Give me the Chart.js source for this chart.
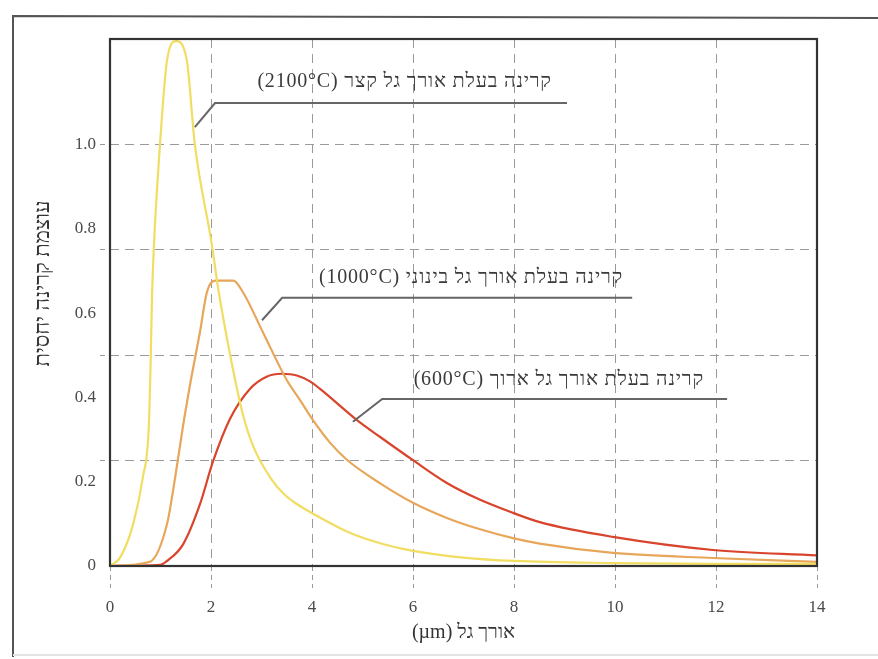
<!DOCTYPE html>
<html>
<head>
<meta charset="utf-8">
<script src="https://cdn.jsdelivr.net/npm/chart.js@4"></script>
<style>
  html, body { margin: 0; padding: 0; background: #ffffff; }
  #wrap { width: 878px; height: 659px; position: relative; }
</style>
</head>
<body>
<div id="wrap"><canvas id="c" width="878" height="659"></canvas></div>
<script>
// ---------- data ----------
const xTicks = [0, 2, 4, 6, 8, 10, 12, 14];
const yTickLabels = [0, 0.2, 0.4, 0.6, 0.8, 1.0];
const yGridValues = [0.25, 0.5, 0.75, 1.0];

const seriesNames = ['2100°C', '1000°C', '600°C'];

const x2100 = [0, 0.2, 0.46, 0.65, 0.77, 0.81, 0.83, 0.87, 0.99, 1.13, 1.31, 1.52, 1.68, 2.02, 2.14, 2.38, 2.63, 2.85, 3.2, 3.45, 3.7, 4.02, 4.69, 5.35, 6.0, 7, 8, 10, 12, 14];
const y2100 = [0, 0.02, 0.1, 0.21, 0.335, 0.51, 0.63, 0.76, 1.0, 1.2, 1.245, 1.2, 1.0, 0.76, 0.66, 0.5, 0.36, 0.28, 0.205, 0.17, 0.147, 0.124, 0.082, 0.054, 0.036, 0.02, 0.012, 0.007, 0.005, 0.005];

const x1000 = [0, 0.79, 1.13, 1.29, 1.45, 1.62, 1.78, 1.92, 2.08, 2.44, 2.63, 3.03, 3.5, 3.76, 4.02, 4.36, 4.69, 5.35, 6.0, 6.67, 7.33, 7.98, 8.51, 9.96, 11.94, 14];
const y1000 = [0, 0.01, 0.1, 0.21, 0.335, 0.453, 0.554, 0.65, 0.677, 0.677, 0.65, 0.554, 0.441, 0.394, 0.346, 0.292, 0.252, 0.196, 0.15, 0.114, 0.087, 0.066, 0.053, 0.031, 0.019, 0.01];

const x600 = [0, 1.0, 1.13, 1.45, 1.78, 2.04, 2.38, 2.77, 3.1, 3.4, 3.7, 3.96, 4.16, 4.36, 4.89, 5.35, 6.0, 6.67, 7.33, 7.98, 8.51, 9.96, 11.94, 14];
const y600 = [0, 0.003, 0.012, 0.052, 0.146, 0.248, 0.35, 0.42, 0.449, 0.456, 0.452, 0.438, 0.42, 0.4, 0.346, 0.306, 0.251, 0.197, 0.157, 0.126, 0.104, 0.069, 0.038, 0.025];

// annotation texts and leader lines (data coordinates)
const labelTexts = ['קרינה בעלת אורך גל קצר (2100°C)', 'קרינה בעלת אורך גל בינוני (1000°C)', 'קרינה בעלת אורך גל ארוך (600°C)'];
const labelX = [8.75, 10.16, 11.76];
const labelY = [1.148, 0.683, 0.441];
const leaderX = [[1.68, 2.08, 9.05], [3.01, 3.41, 10.34], [4.81, 5.39, 12.22]];
const leaderY = [[1.041, 1.098, 1.098], [0.583, 0.636, 0.636], [0.342, 0.396, 0.396]];

const xTitle = 'אורך גל (µm)';
const yTitle = 'עוצמת קרינה יחסית';
const yTitleCenterValue = 0.67; // where along the y axis the title is centred

// ---------- build ----------
const zip = (xs, ys) => xs.map((x, i) => ({ x: x, y: ys[i] }));
const colors = ['#f1dd62', '#e8a65a', '#d9442c'];
const curveSets = [[x2100, y2100], [x1000, y1000], [x600, y600]];

const datasets = [];
leaderX.forEach((xs, i) => {
  datasets.push({
    label: 'leader' + i,
    data: zip(xs, leaderY[i]),
    borderColor: '#666666',
    borderWidth: 2,
    pointRadius: 0,
    tension: 0,
    clip: false
  });
});
curveSets.forEach((s, i) => {
  datasets.push({
    label: seriesNames[i],
    data: zip(s[0], s[1]),
    borderColor: colors[i],
    borderWidth: 2.2,
    pointRadius: 0,
    cubicInterpolationMode: 'monotone',
    fill: false
  });
});

const SERIF = "'Liberation Serif', 'DejaVu Serif', serif";
const RLE = '\u202B', PDF = '\u202C';

const framePlugin = {
  id: 'frame',
  beforeDraw(chart) {
    const ctx = chart.ctx;
    ctx.save();
    ctx.fillStyle = '#ffffff';
    ctx.fillRect(0, 0, chart.width, chart.height);
    ctx.strokeStyle = '#555555';
    ctx.lineWidth = 2;
    ctx.beginPath();
    ctx.moveTo(13, 657);
    ctx.lineTo(13, 16);
    ctx.lineTo(878, 18);
    ctx.stroke();
    ctx.strokeStyle = '#e4e4e4';
    ctx.beginPath();
    ctx.moveTo(13, 655);
    ctx.lineTo(878, 655);
    ctx.stroke();
    ctx.restore();
  },
  afterDatasetsDraw(chart) {
    const ctx = chart.ctx;
    const a = chart.chartArea;
    const xs = chart.scales.x, ys = chart.scales.y;
    ctx.save();
    ctx.strokeStyle = '#333333';
    ctx.lineWidth = 2.2;
    ctx.strokeRect(a.left, a.top, a.right - a.left, a.bottom - a.top);
    // y axis title
    ctx.save();
    ctx.translate(43, ys.getPixelForValue(yTitleCenterValue));
    ctx.rotate(-Math.PI / 2);
    ctx.fillStyle = '#333333';
    ctx.font = "22px " + SERIF;
    ctx.direction = 'rtl';
    ctx.textAlign = 'center';
    ctx.textBaseline = 'middle';
    ctx.fillText(yTitle, 0, 0);
    ctx.restore();
    // annotation texts
    ctx.fillStyle = '#3a3a3a';
    ctx.font = "20px " + SERIF;
    ctx.direction = 'rtl';
    try { ctx.letterSpacing = '0.8px'; } catch (e) {}
    ctx.textAlign = 'right';
    ctx.textBaseline = 'middle';
    labelTexts.forEach((t, i) => {
      ctx.fillText(t, xs.getPixelForValue(labelX[i]), ys.getPixelForValue(labelY[i]));
    });
    ctx.restore();
  }
};

new Chart(document.getElementById('c'), {
  type: 'line',
  data: { datasets: datasets },
  options: {
    responsive: false,
    animation: false,
    devicePixelRatio: 1,
    layout: { padding: { top: 39, right: 61, left: 0, bottom: 0 } },
    plugins: { legend: { display: false }, tooltip: { enabled: false } },
    scales: {
      x: {
        type: 'linear',
        min: 0, max: 14,
        afterBuildTicks: (s) => { s.ticks = xTicks.map(v => ({ value: v })); },
        afterFit: (s) => { s.height = 93; },
        ticks: {
          autoSkip: false,
          maxRotation: 0,
          padding: 9,
          color: '#4a4a4a',
          font: { family: SERIF, size: 17 }
        },
        grid: {
          color: '#9a9a9a',
          lineWidth: 1,
          tickLength: 22,
          tickColor: '#9a9a9a',
          tickBorderDash: [5, 4]
        },
        border: { display: false, dash: [9, 6] },
        title: {
          display: true,
          text: RLE + xTitle + PDF,
          color: '#333333',
          font: { family: SERIF, size: 20 },
          padding: { top: 0, bottom: 14 }
        }
      },
      y: {
        type: 'linear',
        min: 0, max: 1.25,
        afterBuildTicks: (s) => {
          const vals = Array.from(new Set(yTickLabels.concat(yGridValues, [1.25]))).sort((a, b) => a - b);
          s.ticks = vals.map(v => ({ value: v }));
        },
        afterFit: (s) => { s.width = 110; },
        ticks: {
          autoSkip: false,
          padding: 4,
          color: '#4a4a4a',
          font: { family: SERIF, size: 17 },
          callback: (v) => {
            const hit = yTickLabels.find(t => Math.abs(t - v) < 1e-9);
            if (hit === undefined) return '';
            return hit === 0 ? '0' : hit.toFixed(1);
          }
        },
        grid: {
          color: (c) => (c.tick && yGridValues.some(g => Math.abs(g - c.tick.value) < 1e-9)) ? '#9a9a9a' : 'rgba(0,0,0,0)',
          tickColor: (c) => (c.tick && yGridValues.some(g => Math.abs(g - c.tick.value) < 1e-9)) ? '#9a9a9a' : 'rgba(0,0,0,0)',
          lineWidth: 1,
          tickLength: 10,
          tickBorderDash: [5, 4]
        },
        border: { display: false, dash: [9, 6] },
        title: { display: false }
      }
    }
  },
  plugins: [framePlugin]
});
</script>
</body>
</html>
